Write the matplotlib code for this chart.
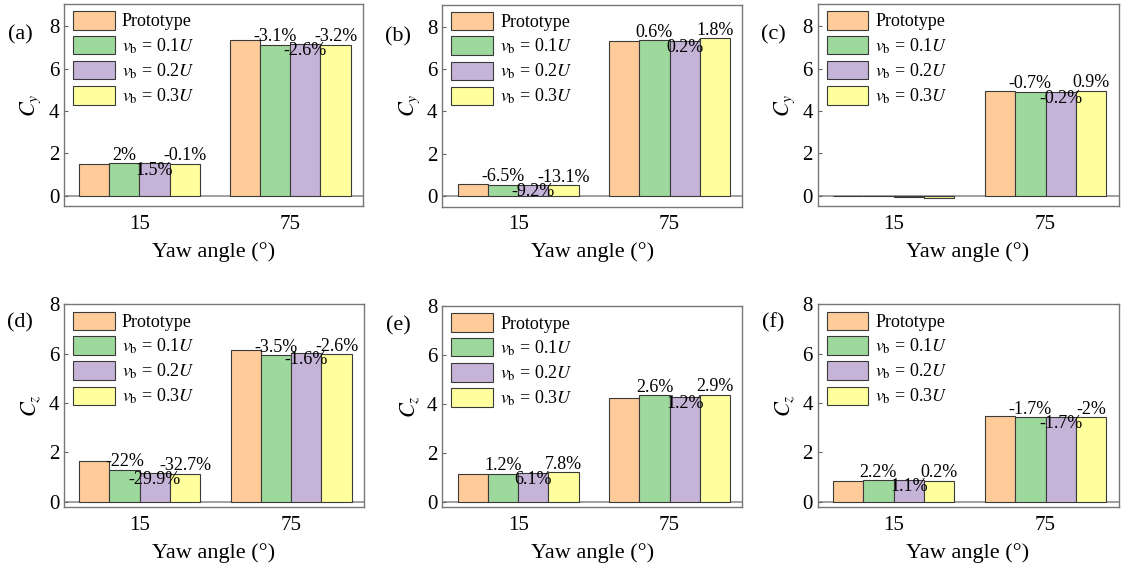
import numpy as np
import matplotlib
matplotlib.use('Agg')
import matplotlib.pyplot as plt

plt.rcParams['font.family'] = ['Liberation Serif', 'DejaVu Serif']
plt.rcParams['mathtext.fontset'] = 'stix'

# Data
yaw_angles = ['15', '75']
series_names = ['Prototype', r'$v_{\rm b}$ = 0.1$U$', r'$v_{\rm b}$ = 0.2$U$', r'$v_{\rm b}$ = 0.3$U$']
colors = ['#FFCC99', '#9DD89C', '#C5B3D8', '#FFFF9E']

# heights per panel: rows = series (prototype, 0.1U, 0.2U, 0.3U), cols = yaw angle (15, 75)
cy_a = [[1.50, 7.35], [1.53, 7.12], [1.52, 7.16], [1.50, 7.11]]
cy_b = [[0.59, 7.33], [0.55, 7.37], [0.54, 7.34], [0.51, 7.46]]
cy_c = [[-0.005, 4.92], [-0.02, 4.89], [-0.05, 4.91], [-0.09, 4.96]]
cz_d = [[1.66, 6.14], [1.29, 5.93], [1.16, 6.04], [1.12, 5.98]]
cz_e = [[1.12, 4.25], [1.13, 4.36], [1.19, 4.30], [1.21, 4.37]]
cz_f = [[0.85, 3.49], [0.87, 3.43], [0.86, 3.43], [0.85, 3.42]]

# percentage change labels for the three vb series, per yaw angle (None = no label)
pct_a = [['2%', '-3.1%'], ['1.5%', '-2.6%'], ['-0.1%', '-3.2%']]
pct_b = [['-6.5%', '0.6%'], ['-9.2%', '0.2%'], ['-13.1%', '1.8%']]
pct_c = [[None, '-0.7%'], [None, '-0.2%'], [None, '0.9%']]
pct_d = [['-22%', '-3.5%'], ['-29.9%', '-1.6%'], ['-32.7%', '-2.6%']]
pct_e = [['1.2%', '2.6%'], ['6.1%', '1.2%'], ['7.8%', '2.9%']]
pct_f = [['2.2%', '-1.7%'], ['1.1%', '-1.7%'], ['0.2%', '-2%']]

panels = [
    ('(a)', cy_a, pct_a, r'$C_y$', [0.057, 0.637, 0.266, 0.356], (-0.5, 9.05), 0.846),
    ('(b)', cy_b, pct_b, r'$C_y$', [0.394, 0.636, 0.267, 0.356], (-0.5, 9.05), 0.84),
    ('(c)', cy_c, pct_c, r'$C_y$', [0.728, 0.637, 0.268, 0.356], (-0.5, 9.05), 0.846),
    ('(d)', cz_d, pct_d, r'$C_z$', [0.057, 0.107, 0.267, 0.357], (-0.23, 8.0), 0.91),
    ('(e)', cz_e, pct_e, r'$C_z$', [0.394, 0.107, 0.267, 0.354], (-0.23, 8.0), 0.9),
    ('(f)', cz_f, pct_f, r'$C_z$', [0.728, 0.107, 0.268, 0.357], (-0.23, 8.0), 0.91),
]

fig = plt.figure(figsize=(11.23, 5.68), dpi=100)
x = np.arange(len(yaw_angles))
w = 0.2

for tag, vals, pcts, ylab, pos, ylim, tag_y in panels:
    ax = fig.add_axes(pos)
    ax.axhline(0, color='#999999', lw=1.3, zorder=1)
    for i in range(4):
        xs = x + (i - 1.5) * w
        ax.bar(xs, vals[i], w, color=colors[i], edgecolor='#3a3a3a', lw=0.8,
               label=series_names[i], zorder=2)
        if i == 0:
            continue
        for j in range(len(x)):
            txt = pcts[i - 1][j]
            if txt is None:
                continue
            if i == 2:
                ax.text(xs[j], vals[i][j] + 0.08, txt, ha='center', va='top',
                        fontsize=13, zorder=4)
            else:
                ax.text(xs[j], vals[i][j] - 0.02, txt, ha='center', va='bottom',
                        fontsize=13, zorder=4)
    ax.set_xlim(-0.5, 1.48)
    ax.set_ylim(*ylim)
    ax.set_yticks([0, 2, 4, 6, 8])
    ax.set_xticks(x)
    ax.set_xticklabels(yaw_angles)
    ax.tick_params(axis='y', direction='in', length=3, labelsize=15, color='#666666')
    ax.tick_params(axis='x', length=0, labelsize=15, pad=6)
    for s in ax.spines.values():
        s.set_color('#777777')
        s.set_linewidth(1.0)
    ax.set_xlabel('Yaw angle (°)', fontsize=16, labelpad=6)
    ax.set_ylabel(ylab, fontsize=16, labelpad=4)
    ax.text(-0.147, tag_y, tag, transform=ax.transAxes, fontsize=16,
            ha='center', va='center')
    ax.legend(loc='upper left', bbox_to_anchor=(0.03, 0.965), frameon=False,
              fontsize=13, handlelength=2.3, handleheight=1.2,
              labelspacing=0.3, handletextpad=0.4, borderpad=0, borderaxespad=0)

fig.savefig('out.png', dpi=100)
